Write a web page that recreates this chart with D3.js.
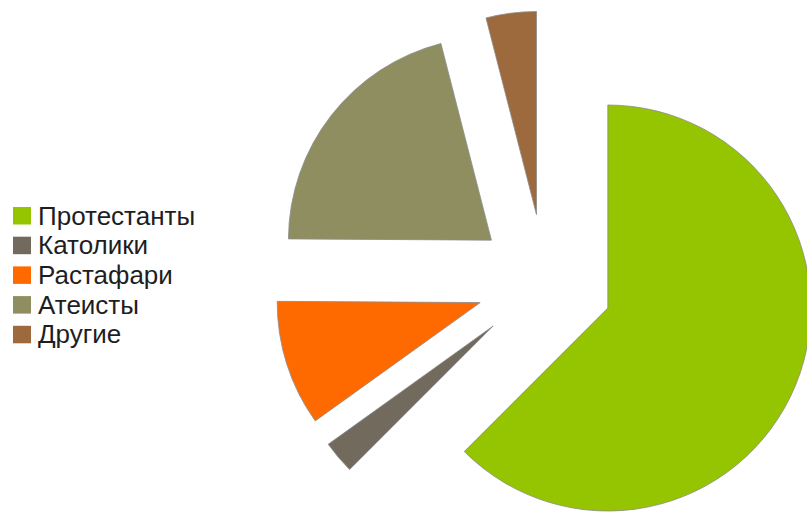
<!DOCTYPE html>
<html lang="ru">
<head>
<meta charset="utf-8">
<title>Религии</title>
<script src="https://cdn.jsdelivr.net/npm/d3@7"></script>
<style>
body {
  margin: 0;
  background: #ffffff;
  font-family: "Liberation Sans", Arial, sans-serif;
}
.legend text {
  font-size: 26px;
  fill: #1e1e1e;
}
</style>
</head>
<body>
<svg width="807" height="513"></svg>
<script>
// shares in percent
var names = ["Протестанты", "Католики", "Растафари", "Атеисты", "Другие"];
var values = [62.5, 2.6, 10, 20.9, 4.0];
var colors = ["#95c400", "#716a5d", "#ff6a00", "#8e8e60", "#9c6a3d"];

var svg = d3.select("svg"),
    cx = 545, cy = 282,
    radius = 203,
    explode = 68;

var pie = d3.pie()
    .sort(null)
    .value(function(d) { return d; });

var arc = d3.arc()
    .innerRadius(0)
    .outerRadius(radius);

var g = svg.append("g")
    .attr("transform", "translate(" + cx + "," + cy + ")");

g.selectAll("path")
  .data(pie(values))
  .enter().append("path")
    .attr("d", arc)
    .attr("transform", function(d) {
      var a = (d.startAngle + d.endAngle) / 2;
      return "translate(" + (Math.sin(a) * explode) + "," + (-Math.cos(a) * explode) + ")";
    })
    .style("fill", function(d, i) { return colors[i]; })
    .style("stroke", "#8c8c8c")
    .style("stroke-width", 0.8);

// legend on the left
var legend = svg.append("g")
    .attr("class", "legend")
    .attr("transform", "translate(13,207)");

var item = legend.selectAll("g")
  .data(names)
  .enter().append("g")
    .attr("transform", function(d, i) { return "translate(0," + (i * 29.7) + ")"; });

item.append("rect")
    .attr("width", 18)
    .attr("height", 17.5)
    .style("fill", function(d, i) { return colors[i]; });

item.append("text")
    .attr("x", 25)
    .attr("y", 17.5)
    .text(function(d) { return d; });
</script>
</body>
</html>
